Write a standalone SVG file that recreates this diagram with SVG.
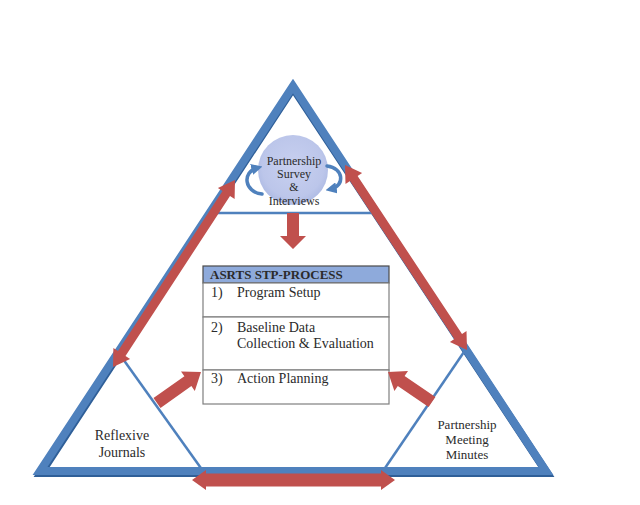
<svg xmlns="http://www.w3.org/2000/svg" width="640" height="505" viewBox="0 0 640 505">
<style>
.t{font-family:"Liberation Serif","DejaVu Serif",serif;fill:#2b2b2b}
.red{fill:#c0504d}
.thin{fill:none;stroke:#4f81bd;stroke-width:2.5}
.curve{fill:none;stroke:#4f81bd;stroke-width:3.5;stroke-linecap:round}
.cell{fill:#ffffff;stroke:#7f7f7f;stroke-width:1.2}
</style>
<defs>
<radialGradient id="cg" cx="50%" cy="45%" r="55%">
<stop offset="0" stop-color="#c8d0f0"/>
<stop offset="0.8" stop-color="#bcc6ea"/>
<stop offset="1" stop-color="#aebbe4"/>
</radialGradient>
<marker id="ah" viewBox="0 0 10 10" refX="5" refY="5" markerWidth="3.2" markerHeight="3.2" orient="auto">
<path d="M0,0 L10,5 L0,10 z" fill="#4f81bd"/>
</marker>
</defs>
<rect width="640" height="505" fill="#ffffff"/>

<g id="frame">
<polygon points="293,88 41,473 547,473" fill="none" stroke="#2f5f98" stroke-width="8" stroke-linejoin="miter"/>
<polygon points="293,86 40,471 546,471" fill="none" stroke="#4f81bd" stroke-width="8" stroke-linejoin="miter"/>
<line class="thin" x1="210" y1="213" x2="376" y2="213"/>
<line class="thin" x1="118" y1="352" x2="203" y2="471"/>
<line class="thin" x1="466" y1="349" x2="383" y2="471"/>
</g>

<g id="survey">
<circle cx="293" cy="170" r="35" fill="url(#cg)"/>
<text class="t" font-size="12" text-anchor="middle"><tspan x="294" y="165">Partnership</tspan><tspan x="294" y="178">Survey</tspan><tspan x="294" y="191">&amp;</tspan><tspan x="294" y="205">Interviews</tspan></text>
</g>

<g id="journals">
<text class="t" font-size="14" text-anchor="middle"><tspan x="122" y="440">Reflexive</tspan><tspan x="122" y="457">Journals</tspan></text>
</g>

<g id="minutes">
<text class="t" font-size="13" text-anchor="middle"><tspan x="467" y="429">Partnership</tspan><tspan x="467" y="444">Meeting</tspan><tspan x="467" y="459">Minutes</tspan></text>
</g>

<g id="process">
<rect x="203" y="266" width="186" height="17" fill="#8eaadb" stroke="#4a4a4a" stroke-width="1.2"/>
<rect class="cell" x="203" y="283" width="186" height="34"/>
<rect class="cell" x="203" y="317" width="186" height="53"/>
<rect class="cell" x="203" y="370" width="186" height="34"/>
<text class="t" font-size="13" font-weight="bold" x="210" y="279" fill="#1a1a1a">ASRTS STP-PROCESS</text>
<text class="t" font-size="14"><tspan x="211" y="297">1)</tspan><tspan x="237" y="297">Program Setup</tspan></text>
<text class="t" font-size="14"><tspan x="211" y="332">2)</tspan><tspan x="237" y="332">Baseline Data</tspan><tspan x="237" y="348">Collection &amp; Evaluation</tspan></text>
<text class="t" font-size="14"><tspan x="211" y="383">3)</tspan><tspan x="237" y="383">Action Planning</tspan></text>
</g>

<g id="connectors">
<path class="curve" d="M262,194 C244,192 242,172 257,168" marker-end="url(#ah)"/>
<path class="curve" d="M327,166 C344,168 345,186 331,189" marker-end="url(#ah)"/>
<polygon class="red" points="113,367 130.1,359.1 125.5,356.1 230,195.9 234.6,198.9 235,180 217.9,187.9 222.5,190.9 118,351.1 113.4,348.1"/>
<polygon class="red" points="345,165 345.5,183.9 350,180.9 454.4,339.1 449.9,342.1 467,350 466.5,331.1 462,334.1 357.6,175.9 362.1,172.9"/>
<polygon class="red" points="192,480 206,470 206,473.5 381,473.5 381,470 395,480 381,490 381,486.5 206,486.5 206,490"/>
<polygon class="red" points="287,213 299,213 299,236 306,236 293,249 280,236 287,236"/>
<polygon class="red" points="153.5,398.1 184.4,376.3 181,371.4 201,372 194.8,391 191.4,386.1 160.5,407.9"/>
<polygon class="red" points="435.4,397 404.6,376 408,371.1 388,372 394.4,390.9 397.8,386 428.6,407"/>
</g>
</svg>
